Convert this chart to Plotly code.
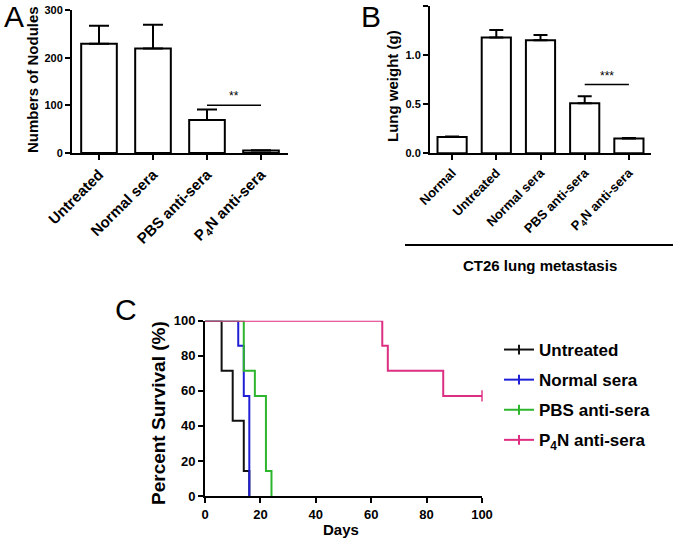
import plotly.graph_objects as go

OFF = 0
FW, FH = 677, 541

# ---- Panel A data ----
a_cats = ["Untreated", "Normal sera", "PBS anti-sera", "P<sub>4</sub>N anti-sera"]
a_vals = [229, 219, 69, 5]
a_err = [38, 50, 22, 1]

# ---- Panel B data ----
b_cats = ["Normal", "Untreated", "Normal sera", "PBS anti-sera", "P<sub>4</sub>N anti-sera"]
b_vals = [0.165, 1.18, 1.15, 0.51, 0.15]
b_err = [0.005, 0.075, 0.055, 0.07, 0.007]

# ---- Panel C data (Kaplan-Meier steps) ----
surv_names = ["Untreated", "Normal sera", "PBS anti-sera", "P<sub>4</sub>N anti-sera"]
surv_days = [
    [0, 6, 10, 14, 16],
    [0, 12, 14, 16],
    [0, 14, 18, 22, 24],
    [0, 64, 66, 86, 100],
]
surv_pct = [
    [100, 71.4, 42.9, 14.3, 0],
    [100, 85.7, 57.1, 0],
    [100, 71.4, 57.1, 14.3, 0],
    [100, 85.7, 71.4, 57.1, 57.1],
]
surv_colors = ["#111111", "#1f1fd6", "#2db52d", "#dc2f82"]

FONT = "Liberation Sans, Arial, sans-serif"


def px_x(p):
    return min(1.0, max(0.0, (p - OFF) / FW))


def px_y(p):
    return min(1.0, max(0.0, 1 - (p - OFF) / FH))


fig = go.Figure()

fig.add_trace(go.Bar(
    x=a_cats, y=a_vals, xaxis="x", yaxis="y",
    marker=dict(color="white", line=dict(color="black", width=2)),
    width=0.66,
    error_y=dict(type="data", symmetric=False, array=a_err, arrayminus=[0] * 4,
                 color="black", thickness=2, width=10),
    showlegend=False,
))

fig.add_trace(go.Bar(
    x=b_cats, y=b_vals, xaxis="x2", yaxis="y2",
    marker=dict(color="white", line=dict(color="black", width=2)),
    width=0.66,
    error_y=dict(type="data", symmetric=False, array=b_err, arrayminus=[0] * 5,
                 color="black", thickness=2, width=7),
    showlegend=False,
))

for i in range(4):
    n = len(surv_days[i])
    sizes = [0] * n
    if i == 3:
        sizes[-1] = 8
    fig.add_trace(go.Scatter(
        x=surv_days[i], y=surv_pct[i], xaxis="x3", yaxis="y3",
        mode="lines+markers" if i == 3 else "lines",
        line=dict(color=surv_colors[i], width=2, shape="hv"),
        marker=dict(symbol="line-ns-open", size=sizes, line=dict(color=surv_colors[i], width=2)),
        showlegend=False, cliponaxis=False,
    ))
    fig.add_trace(go.Scatter(
        x=[None], y=[None], xaxis="x3", yaxis="y3",
        mode="lines+markers", name=surv_names[i],
        line=dict(color=surv_colors[i], width=2),
        marker=dict(symbol="line-ns-open", size=7, line=dict(color=surv_colors[i], width=2)),
        legendgroup=str(i),
    ))

axis_common = dict(showline=True, linecolor="black", linewidth=2, ticks="outside",
                   tickcolor="black", tickwidth=2, ticklen=5, showgrid=False,
                   zeroline=False, mirror=False, automargin=False)

fig.update_layout(
    width=FW, height=FH,
    margin=dict(l=0, r=0, t=0, b=0, autoexpand=False),
    paper_bgcolor="white", plot_bgcolor="white",
    font=dict(family=FONT, color="black"),
    xaxis=dict(domain=[px_x(72), px_x(288)], anchor="y", range=[-0.5, 3.5],
               tickangle=-45, tickfont=dict(size=15, weight="bold"), **axis_common),
    yaxis=dict(domain=[px_y(153), px_y(10)], anchor="x", range=[0, 300],
               tickvals=[0, 100, 200, 300], tickfont=dict(size=11, weight="bold"),
               **axis_common),
    xaxis2=dict(domain=[px_x(430), px_x(651)], anchor="y2", range=[-0.5, 4.5],
                tickangle=-45, tickfont=dict(size=13, weight="bold"), **axis_common),
    yaxis2=dict(domain=[px_y(153.3), px_y(6)], anchor="x2", range=[0, 1.5],
                tickvals=[0, 0.5, 1.0, 1.5], ticktext=["0.0", "0.5", "1.0", "1.5"],
                tickfont=dict(size=11, weight="bold"),
                **axis_common),
    xaxis3=dict(domain=[px_x(205), px_x(482)], anchor="y3", range=[0, 100],
                tickvals=[0, 20, 40, 60, 80, 100], tickfont=dict(size=13, weight="bold"),
                **axis_common),
    yaxis3=dict(domain=[px_y(496), px_y(320.7)], anchor="x3", range=[0, 100],
                tickvals=[0, 20, 40, 60, 80, 100], tickfont=dict(size=13, weight="bold"),
                **axis_common),
    legend=dict(x=px_x(499), y=px_y(332), xanchor="left", yanchor="top",
                font=dict(size=17, weight="bold"), bgcolor="rgba(0,0,0,0)",
                tracegroupgap=5, itemwidth=30),
)

# axis titles (placed as annotations to pin positions)
titles = [
    ("Numbers of Nodules", 33, 80, 15, -90),
    ("Lung weight (g)", 392, 86, 15, -90),
    ("Percent Survival (%)", 158, 413, 19, -90),
    ("Days", 341, 529, 15, 0),
    ("CT26 lung metastasis", 540, 265, 15, 0),
]
for txt, xp, yp, fs, ang in titles:
    fig.add_annotation(xref="paper", yref="paper", x=px_x(xp), y=px_y(yp), text=txt,
                       showarrow=False, textangle=ang, xanchor="center", yanchor="middle",
                       font=dict(size=fs, weight="bold"))

# significance markers
fig.add_shape(type="line", xref="x", yref="y", x0=2, x1=3, y0=100, y1=100,
              line=dict(color="black", width=1.5))
fig.add_annotation(xref="x", yref="y", x=2.5, y=100, text="**", showarrow=False,
                   yanchor="bottom", font=dict(size=12))
fig.add_shape(type="line", xref="x2", yref="y2", x0=3, x1=4, y0=0.7, y1=0.7,
              line=dict(color="black", width=1.5))
fig.add_annotation(xref="x2", yref="y2", x=3.5, y=0.7, text="***", showarrow=False,
                   yanchor="bottom", font=dict(size=12))

# CT26 group line
fig.add_shape(type="line", xref="paper", yref="paper", x0=px_x(405), x1=px_x(673),
              y0=px_y(245), y1=px_y(245), line=dict(color="black", width=2))

# panel letters
for letter, xp, yp in [("A", 14, 17), ("B", 371, 17), ("C", 126, 309)]:
    fig.add_annotation(xref="paper", yref="paper", x=px_x(xp), y=px_y(yp), text=letter,
                       showarrow=False, font=dict(size=30), xanchor="center", yanchor="middle")

fig.write_html(
    "out.html",
    config={"displayModeBar": False},
    post_script="document.body.style.margin='0';document.body.style.overflow='hidden';",
)
